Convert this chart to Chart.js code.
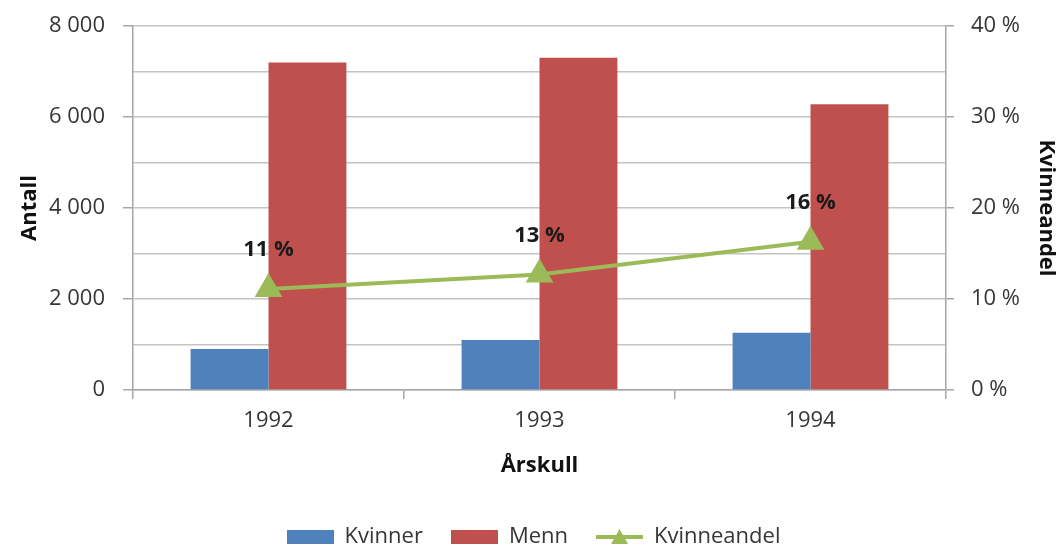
<!DOCTYPE html>
<html>
<head>
<meta charset="utf-8">
<script src="https://cdn.jsdelivr.net/npm/chart.js@4/dist/chart.umd.min.js"></script>
<style>
  html, body { margin: 0; padding: 0; background: #fff; overflow: hidden; }
  #wrap { width: 1059px; height: 545px; }
</style>
</head>
<body>
<div id="wrap"><canvas id="chart" width="1059" height="545"></canvas></div>
<script>
// Data
const years = ['1992', '1993', '1994'];
const kvinner = [900, 1100, 1260];
const menn = [7200, 7300, 6280];
const kvinneandel = [11.1, 12.7, 16.3];
const andelLabels = ['11 %', '13 %', '16 %'];

const COLORS = { blue: '#4F81BD', red: '#C0504D', green: '#9BBB59', grid: '#c4c4c4', axis: '#a6a6a6', text: '#363636' };
const FONT = "'Open Sans', 'Noto Sans', sans-serif";

// thousands with a space, like "8 000"
function fmtThousands(v) {
    return String(v).replace(/\B(?=(\d{3})+(?!\d))/g, ' ');
}

// small canvases used as legend symbols
function makeBox(color) {
    const c = document.createElement('canvas');
    c.width = 47; c.height = 14;
    const g = c.getContext('2d');
    g.fillStyle = color;
    g.fillRect(0, 0, 47, 14);
    return c;
}
function makeLineSymbol(color) {
    const c = document.createElement('canvas');
    c.width = 47; c.height = 20;
    const g = c.getContext('2d');
    g.strokeStyle = color; g.lineWidth = 4;
    g.beginPath(); g.moveTo(0, 10); g.lineTo(47, 10); g.stroke();
    g.fillStyle = color;
    g.beginPath(); g.moveTo(23.5, 2); g.lineTo(32, 17); g.lineTo(15, 17); g.closePath(); g.fill();
    return c;
}

// draws "11 %" etc above the line points
const pointLabels = {
    id: 'pointLabels',
    afterDatasetsDraw(chart) {
        const meta = chart.getDatasetMeta(2);
        const ctx = chart.ctx;
        ctx.save();
        ctx.font = "bold 22px " + FONT;
        ctx.fillStyle = '#1a1a1a';
        ctx.textAlign = 'center';
        ctx.textBaseline = 'middle';
        meta.data.forEach((pt, i) => {
            ctx.fillText(andelLabels[i], pt.x, pt.y - 39);
        });
        ctx.restore();
    }
};

const tickOnlyMajor = (step) => (c) => (c.tick && c.tick.value % step === 0) ? COLORS.axis : 'rgba(0,0,0,0)';

// fixed axis sizes so the plot area sits where the original has it
function fixWidth(w) {
    return (s) => { s.width = w; s.paddingTop = 0; s.paddingBottom = 0; };
}

new Chart(document.getElementById('chart'), {
    data: {
        labels: years,
        datasets: [
            { type: 'bar', label: 'Kvinner', data: kvinner, backgroundColor: COLORS.blue, yAxisID: 'y', order: 2,
              barPercentage: 1.0, categoryPercentage: 0.575 },
            { type: 'bar', label: 'Menn', data: menn, backgroundColor: COLORS.red, yAxisID: 'y', order: 2,
              barPercentage: 1.0, categoryPercentage: 0.575 },
            { type: 'line', label: 'Kvinneandel', data: kvinneandel, yAxisID: 'y1', order: 0,
              borderColor: COLORS.green, borderWidth: 4, backgroundColor: COLORS.green,
              pointStyle: 'triangle', pointRadius: 12, pointBackgroundColor: COLORS.green,
              pointBorderColor: COLORS.green, tension: 0 }
        ]
    },
    options: {
        responsive: false,
        animation: false,
        layout: { padding: { left: 8, right: 0, top: 26, bottom: -13 } },
        plugins: {
            tooltip: { enabled: false },
            legend: {
                position: 'bottom',
                labels: {
                    usePointStyle: true,
                    pointStyleWidth: 47,
                    padding: 28,
                    color: COLORS.text,
                    font: { family: FONT, size: 22 },
                    generateLabels: () => [
                        { text: 'Kvinner', pointStyle: makeBox(COLORS.blue), fillStyle: COLORS.blue, strokeStyle: COLORS.blue, lineWidth: 0, datasetIndex: 0, fontColor: COLORS.text },
                        { text: 'Menn', pointStyle: makeBox(COLORS.red), fillStyle: COLORS.red, strokeStyle: COLORS.red, lineWidth: 0, datasetIndex: 1, fontColor: COLORS.text },
                        { text: 'Kvinneandel', pointStyle: makeLineSymbol(COLORS.green), fillStyle: COLORS.green, strokeStyle: COLORS.green, lineWidth: 0, datasetIndex: 2, fontColor: COLORS.text }
                    ]
                }
            }
        },
        scales: {
            x: {
                offset: true,
                grid: { offset: true, drawOnChartArea: false, tickLength: 9, color: COLORS.axis, lineWidth: 1.5 },
                border: { color: COLORS.axis, width: 1.5 },
                ticks: { color: COLORS.text, font: { family: FONT, size: 22 }, padding: 9 },
                title: { display: true, text: 'Årskull', color: '#111', font: { family: FONT, size: 22, weight: 'bold' }, padding: { top: 14, bottom: 19 } },
                afterFit: (s) => { s.height = 108; }
            },
            y: {
                position: 'left',
                min: 0, max: 8000,
                ticks: { stepSize: 1000, color: COLORS.text, font: { family: FONT, size: 22 }, padding: 18,
                         callback: (v) => v % 2000 === 0 ? fmtThousands(v) : '' },
                grid: { color: COLORS.grid, lineWidth: 1.5, tickLength: 10, tickColor: tickOnlyMajor(2000) },
                border: { color: COLORS.axis, width: 1.5 },
                title: { display: true, text: 'Antall', color: '#111', font: { family: FONT, size: 22, weight: 'bold' }, padding: { top: 9, bottom: 9 } },
                afterFit: fixWidth(125)
            },
            y1: {
                position: 'right',
                min: 0, max: 40,
                ticks: { stepSize: 5, color: COLORS.text, font: { family: FONT, size: 22 }, padding: 17,
                         callback: (v) => v % 10 === 0 ? v + ' %' : '' },
                grid: { drawOnChartArea: false, lineWidth: 1.5, tickLength: 8, tickColor: tickOnlyMajor(10) },
                border: { color: COLORS.axis, width: 1.5 },
                title: { display: true, text: 'Kvinneandel', color: '#111', font: { family: FONT, size: 22, weight: 'bold' }, padding: { top: 0, bottom: 0 } },
                afterFit: fixWidth(113)
            }
        }
    },
    plugins: [pointLabels]
});
</script>
</body>
</html>
